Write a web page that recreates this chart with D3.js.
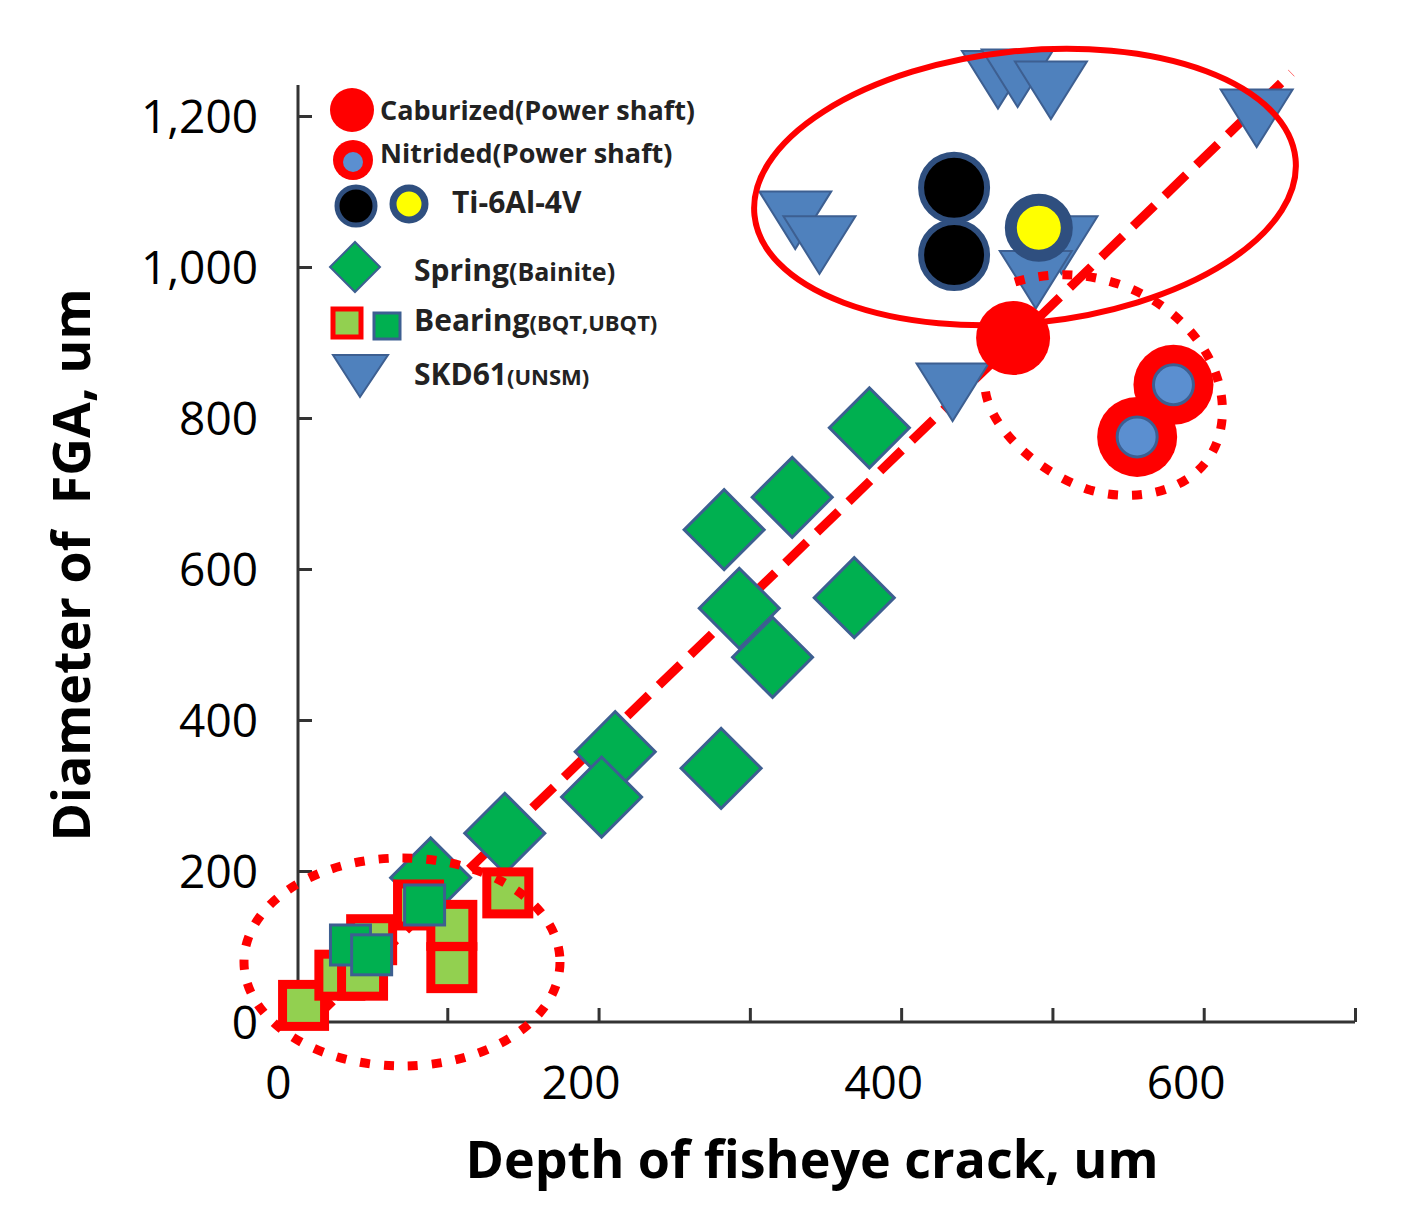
<!DOCTYPE html>
<html>
<head>
<meta charset="utf-8">
<script src="https://cdn.jsdelivr.net/npm/d3@7"></script>
<style>
  body { margin: 0; background: #fff; }
  .axis path, .axis line { stroke: #333; stroke-width: 3; }
  .axis text { font-family: "Open Sans", sans-serif; font-size: 46px; fill: #000; }
</style>
</head>
<body>
<div id="chart"></div>
<script>
var width = 1411, height = 1222;

// data [depth, diameter]
var spring = [[379,787],[328,695],[283,652],[293,548],[315,483],[369,562],[211,358],[202,298],[281,336],[138,250],[89,191]];
var bearingBQT = [[5,22],[29,62],[44,62],[50,109],[81,155],[103,128],[103,72],[140,171]];
var bearingUBQT = [[36,102],[50,89],[85,155]];
var skd61 = [[464,1248],[477,1250],[499,1234],[635,1197],[330,1062],[346,1029],[506,1029],[489,983],[434,834]];
var caburized = [[474,906]];
var nitrided = [[580,844],[556,775]];
var tiBlack = [[435,1105],[435,1016]];
var tiYellow = [[491,1052]];
var trend = [[10,0],[658,1257]];
var xTicks = [0,100,200,300,400,500,600,700];
var xLabels = [0,200,400,600];
var yTicks = [0,200,400,600,800,1000,1200];

var svg = d3.select("#chart").append("svg").attr("width", width).attr("height", height);

var x = d3.scaleLinear().domain([0,700]).range([296,1355]);
var y = d3.scaleLinear().domain([0,1200]).range([1022,116]);

// axes
var xAxis = svg.append("g").attr("class","axis").attr("transform","translate(0,1022)")
  .call(d3.axisTop(x).tickValues(xTicks).tickSize(14).tickFormat(""));
xAxis.select(".domain").attr("d","M296,0H1355");
svg.append("g").attr("class","axis").attr("transform","translate(0,1022)")
  .call(d3.axisBottom(x).tickValues(xLabels).tickSize(0).tickPadding(44))
  .call(function(g){ g.select(".domain").remove(); g.selectAll("text").attr("dx",-18); });
var yAxis = svg.append("g").attr("class","axis").attr("transform","translate(298,0)")
  .call(d3.axisLeft(y).tickValues(yTicks).tickSize(0).tickPadding(40));
yAxis.select(".domain").attr("d","M0,1022V85");
yAxis.selectAll(".tick line").attr("x2",14);
yAxis.selectAll(".tick text").attr("dy","0.35em");

svg.append("text").attr("x",812).attr("y",1178).attr("text-anchor","middle")
  .attr("font-family","Open Sans, sans-serif").attr("font-weight","bold").attr("font-size",52)
  .text("Depth of fisheye crack, um");
svg.append("text").attr("transform","translate(90,565) rotate(-90)").attr("text-anchor","middle")
  .attr("font-family","Open Sans, sans-serif").attr("font-weight","bold").attr("font-size",52)
  .attr("xml:space","preserve").text("Diameter of  FGA, um");

// trend line
svg.append("line").attr("x1",x(trend[0][0])).attr("y1",y(trend[0][1]))
  .attr("x2",x(trend[1][0])).attr("y2",y(trend[1][1]))
  .attr("stroke","#f00").attr("stroke-width",9).attr("stroke-dasharray","30,14");

var blueStroke = "#3d5f91";
var diamond = d3.symbol().type(d3.symbolSquare).size(3200);
svg.selectAll(".spring").data(spring).enter().append("path")
  .attr("d", diamond)
  .attr("transform", function(d){ return "translate(" + x(d[0]) + "," + y(d[1]) + ") rotate(45)"; })
  .attr("fill","#00b050").attr("stroke",blueStroke).attr("stroke-width",3);

svg.selectAll(".bqt").data(bearingBQT).enter().append("rect")
  .attr("x", function(d){ return x(d[0]) - 21; }).attr("y", function(d){ return y(d[1]) - 21; })
  .attr("width",42).attr("height",42)
  .attr("fill","#92d050").attr("stroke","#f00").attr("stroke-width",9);
svg.selectAll(".ubqt").data(bearingUBQT).enter().append("rect")
  .attr("x", function(d){ return x(d[0]) - 20; }).attr("y", function(d){ return y(d[1]) - 20; })
  .attr("width",40).attr("height",40)
  .attr("fill","#00b050").attr("stroke",blueStroke).attr("stroke-width",3);

var tri = function(cx, cy, w) {
  var h = w * 0.8;
  return "M" + (cx - w/2) + "," + (cy - h/2) + "L" + (cx + w/2) + "," + (cy - h/2) + "L" + cx + "," + (cy + h/2) + "Z";
};
svg.selectAll(".skd").data(skd61).enter().append("path")
  .attr("d", function(d){ return tri(x(d[0]), y(d[1]), 72); })
  .attr("fill","#4f81bd").attr("stroke",blueStroke).attr("stroke-width",2);

svg.selectAll(".cab").data(caburized).enter().append("circle")
  .attr("cx", function(d){ return x(d[0]); }).attr("cy", function(d){ return y(d[1]); })
  .attr("r",37).attr("fill","#f00");
svg.selectAll(".nit").data(nitrided).enter().append("circle")
  .attr("cx", function(d){ return x(d[0]); }).attr("cy", function(d){ return y(d[1]); })
  .attr("r",40).attr("fill","#f00");
svg.selectAll(".nitc").data(nitrided).enter().append("circle")
  .attr("cx", function(d){ return x(d[0]); }).attr("cy", function(d){ return y(d[1]); })
  .attr("r",20).attr("fill","#5b8fd0").attr("stroke",blueStroke).attr("stroke-width",3);
svg.selectAll(".tib").data(tiBlack).enter().append("circle")
  .attr("cx", function(d){ return x(d[0]); }).attr("cy", function(d){ return y(d[1]); })
  .attr("r",33).attr("fill","#000").attr("stroke","#2f4f7f").attr("stroke-width",6);
svg.selectAll(".tiy").data(tiYellow).enter().append("circle")
  .attr("cx", function(d){ return x(d[0]); }).attr("cy", function(d){ return y(d[1]); })
  .attr("r",28).attr("fill","#ff0").attr("stroke","#2f4f7f").attr("stroke-width",12);

// grouping ellipses
svg.append("ellipse").attr("cx",1025).attr("cy",187).attr("rx",272).attr("ry",136)
  .attr("transform","rotate(-6,1025,187)")
  .attr("fill","none").attr("stroke","#f00").attr("stroke-width",6);
svg.append("ellipse").attr("cx",402).attr("cy",962).attr("rx",158).attr("ry",104)
  .attr("fill","none").attr("stroke","#f00").attr("stroke-width",9).attr("stroke-dasharray","10,14");
svg.append("path").attr("d","M1015,282 C1120,250 1230,330 1222,420 C1215,490 1140,505 1090,490 C1030,470 985,420 985,385")
  .attr("fill","none").attr("stroke","#f00").attr("stroke-width",9).attr("stroke-dasharray","10,14");

// legend
var lg = svg.append("g").attr("font-family","Open Sans, sans-serif").attr("font-weight","bold").attr("fill","#222");
lg.append("circle").attr("cx",352).attr("cy",110).attr("r",22).attr("fill","#f00");
lg.append("text").attr("x",380).attr("y",120).attr("font-size",27).text("Caburized(Power shaft)");
lg.append("circle").attr("cx",353).attr("cy",160).attr("r",20).attr("fill","#f00");
lg.append("circle").attr("cx",353).attr("cy",162).attr("r",10).attr("fill","#5b8fd0");
lg.append("text").attr("x",380).attr("y",163).attr("font-size",27).text("Nitrided(Power shaft)");
lg.append("circle").attr("cx",356).attr("cy",206).attr("r",19).attr("fill","#000").attr("stroke","#2f4f7f").attr("stroke-width",5);
lg.append("circle").attr("cx",409).attr("cy",204).attr("r",16).attr("fill","#ff0").attr("stroke","#2f4f7f").attr("stroke-width",7);
lg.append("text").attr("x",452).attr("y",213).attr("font-size",30).text("Ti-6Al-4V");
lg.append("path").attr("d","M330,267L355,242L380,267L355,292Z").attr("fill","#00b050").attr("stroke",blueStroke).attr("stroke-width",2);
lg.append("text").attr("x",414).attr("y",281).attr("font-size",30).text("Spring").append("tspan").attr("font-size",25).text("(Bainite)");
lg.append("rect").attr("x",333).attr("y",309).attr("width",28).attr("height",28).attr("fill","#92d050").attr("stroke","#f00").attr("stroke-width",5);
lg.append("rect").attr("x",374).attr("y",313).attr("width",26).attr("height",26).attr("fill","#00b050").attr("stroke",blueStroke).attr("stroke-width",3);
lg.append("text").attr("x",414).attr("y",331).attr("font-size",30).text("Bearing").append("tspan").attr("font-size",22).text("(BQT,UBQT)");
lg.append("path").attr("d","M333,355L388,355L360,397Z").attr("fill","#4f81bd").attr("stroke",blueStroke).attr("stroke-width",2);
lg.append("text").attr("x",414).attr("y",385).attr("font-size",30).text("SKD61").append("tspan").attr("font-size",22).text("(UNSM)");
</script>
</body>
</html>
